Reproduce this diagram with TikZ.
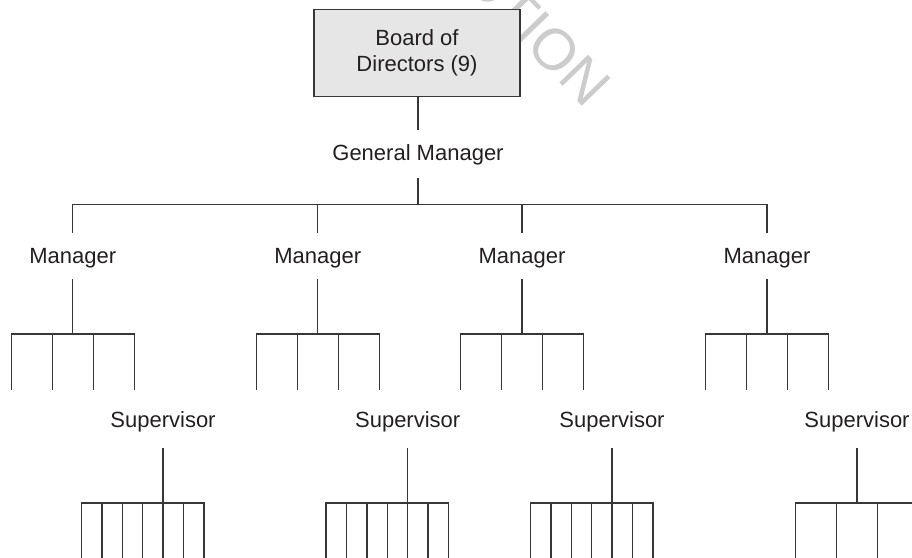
\documentclass[tikz,border=0pt]{standalone}
\usepackage{fontspec}
\setmainfont{Liberation Sans}
\definecolor{inkgray}{RGB}{35,31,32}
\definecolor{linegray}{RGB}{55,55,55}
\definecolor{boxgray}{RGB}{230,230,230}
\definecolor{markgray}{RGB}{204,204,204}

\begin{document}
\begin{tikzpicture}[
        x=1pt, y=-1pt,
        every node/.style={font=\fontsize{22}{26}\selectfont, text=inkgray, inner sep=0pt},
        line/.style={draw=linegray, line width=1.4pt, line cap=rect},
        board/.style={draw=linegray, line width=1.8pt, fill=boxgray,
            minimum width=206pt, minimum height=87pt, align=center},
        label/.style={text height=18pt, text depth=4pt},
        gmlabel/.style={label, minimum height=49pt},
        mlabel/.style={label, minimum height=47pt},
        slabel/.style={label, minimum height=55pt},
        ]
    \useasboundingbox (0, 0) rectangle (912, 557);
    %\draw[lightgray] (0, 0) grid[step=50] (912, 557);

    \node[font=\fontsize{58}{58}\selectfont, text=markgray, rotate=-46] (mark) at (537, 31) {CTION};

    \node[board] (bod) at (417, 53) {Board of\\Directors (9)};
    \node[gmlabel] (gm) at (418, 153.5) {General Manager};
    \coordinate (topbus) at (418, 204.5);
    \draw[line] (bod.south -| gm) -- (gm);
    \draw[line] (gm) -- (topbus);

    \node[mlabel] (mgrA) at (72.7, 256) {Manager};
    \node[mlabel] (mgrB) at (317.7, 256) {Manager};
    \node[mlabel] (mgrC) at (522, 256) {Manager};
    \node[mlabel] (mgrD) at (767, 256) {Manager};
    \draw[line] (mgrA) -- (mgrA |- topbus) -- (mgrD |- topbus) -- (mgrD);
    \draw[line] (mgrB) -- (mgrB |- topbus);
    \draw[line] (mgrC) -- (mgrC |- topbus);

    \node[slabel] (supA) at (163, 420.5) {Supervisor};
    \node[slabel] (supB) at (407.7, 420.5) {Supervisor};
    \node[slabel] (supC) at (612, 420.5) {Supervisor};
    \node[slabel] (supD) at (857, 420.5) {Supervisor};

    \foreach \m in {A, B, C, D} {
        \coordinate (mbus\m) at (mgr\m |- 0, 334);
        \draw[line] (mgr\m) -- (mbus\m);
        \draw[line] ([xshift=-61.5pt]mbus\m) -- ([xshift=61.5pt]mbus\m);
        \foreach \dx in {-61.5, -20.5, 20.5, 61.5}
            \draw[line] ([xshift=\dx pt]mbus\m) -- ++(0, 55);
    }

    \foreach \s in {A, B, C} {
        \coordinate (sbus\s) at (sup\s |- 0, 503);
        \draw[line] (sup\s) -- (sbus\s);
        \draw[line] ([xshift=-81.6pt]sbus\s) -- ([xshift=40.8pt]sbus\s);
        \foreach \dx in {-81.6, -61.2, -40.8, -20.4, 0, 20.4, 40.8}
            \draw[line] ([xshift=\dx pt]sbus\s) -- ++(0, 60);
    }

    \coordinate (sbusD) at (supD |- 0, 503);
    \draw[line] (supD) -- (sbusD);
    \draw[line] ([xshift=-61.5pt]sbusD) -- ([xshift=61.5pt]sbusD);
    \foreach \dx in {-61.5, -20.5, 20.5, 61.5}
        \draw[line] ([xshift=\dx pt]sbusD) -- ++(0, 60);
\end{tikzpicture}
\end{document}
